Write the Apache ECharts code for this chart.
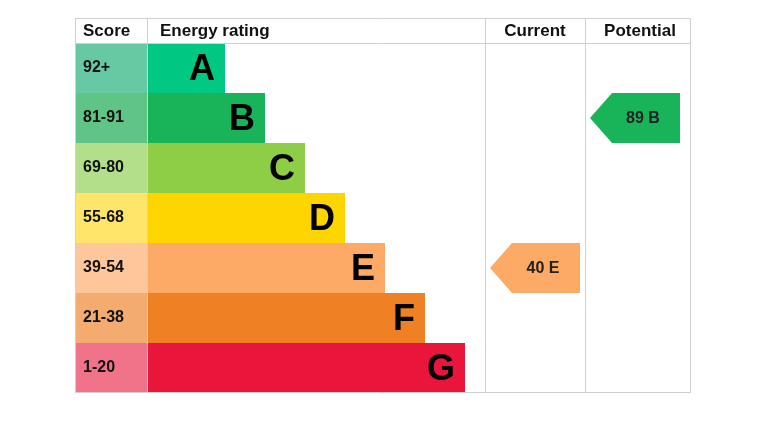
<!DOCTYPE html>
<html><head><meta charset="utf-8">
<script src="https://cdn.jsdelivr.net/npm/echarts@6/dist/echarts.min.js"></script>
<style>html,body{margin:0;padding:0;background:#fff}#c{width:757px;height:427px}</style>
</head><body><div id="c"></div>
<script>
const letters = ['A','B','C','D','E','F','G'];
const scoreRanges = ['92+','81-91','69-80','55-68','39-54','21-38','1-20'];
const barEnds = [150,190,230,270,310,350,390];
const barColors = ['#00c781','#19b459','#8dce46','#ffd500','#fcaa65','#ef8023','#e9153b'];
const scoreColors = ['#66c9a4','#5fc485','#b3de8a','#ffe56a','#fdc79b','#f4ab6f','#f0738a'];
const headers = ['Score','Energy rating','Current','Potential'];
const currentScore = 40, currentBand = 'E';
const potentialScore = 89, potentialBand = 'B';

const chart = echarts.init(document.getElementById('c'));
const font = 'Liberation Sans, Arial, sans-serif';
const rows = letters.map((l,i)=>[i,barEnds[i]]);
function rowTop(i){return 25+50*i;}

chart.setOption({
  animation:false,
  grid:{left:75,top:18,width:615,height:375},
  xAxis:{type:'value',min:0,max:615,show:false},
  yAxis:{type:'value',min:0,max:375,inverse:true,show:false},
  series:[
    {type:'custom',data:rows,renderItem:(p,api)=>{
      const i=api.value(0), end=api.value(1);
      const t=rowTop(i);
      const a=api.coord([0,t]), b=api.coord([72,t+50]), c=api.coord([end,t+50]);
      return {type:'group',children:[
        {type:'rect',shape:{x:a[0],y:a[1],width:b[0]-a[0],height:b[1]-a[1]},style:{fill:scoreColors[i]}},
        {type:'rect',shape:{x:b[0],y:a[1],width:c[0]-b[0],height:c[1]-a[1]},style:{fill:barColors[i]}},
        {type:'text',style:{x:a[0]+8,y:(a[1]+b[1])/2,text:scoreRanges[i],font:'bold 16px '+font,fill:'#111',verticalAlign:'middle'}},
        {type:'text',style:{x:c[0]-10,y:(a[1]+b[1])/2+2,text:letters[i],font:'bold 36px '+font,fill:'#000',align:'right',verticalAlign:'middle'}}
      ]};
    }},
    {type:'custom',data:[[415,505,letters.indexOf(currentBand),currentScore],[515,605,letters.indexOf(potentialBand),potentialScore]],
     renderItem:(p,api)=>{
      const x0=api.value(0),x1=api.value(1),i=api.value(2),s=api.value(3);
      const t=rowTop(i);
      const tip=api.coord([x0,t+25]), tl=api.coord([x0+22,t]), br=api.coord([x1,t+50]);
      const pts=[[tip[0],tip[1]],[tl[0],tl[1]],[br[0],tl[1]],[br[0],br[1]],[tl[0],br[1]]];
      const lab = s+' '+(p.dataIndex===0?currentBand:potentialBand);
      return {type:'group',children:[
        {type:'polygon',shape:{points:pts},style:{fill:barColors[i]}},
        {type:'text',style:{x:(tip[0]+br[0])/2+8,y:tip[1]+1,text:lab,font:'bold 16px '+font,fill:'#222',align:'center',verticalAlign:'middle'}}
      ]};
    }},
    {type:'custom',data:[[0]],renderItem:(p,api)=>{
      const ch=[];
      const L=api.coord([0,0]),R=api.coord([615,375]);
      const line=(x1,y1,x2,y2)=>ch.push({type:'line',shape:{x1,y1,x2,y2},style:{stroke:'#d0d0d0',lineWidth:1}});
      line(L[0],L[1]+0.5,R[0],L[1]+0.5);
      line(L[0],R[1]-0.5,R[0],R[1]-0.5);
      const h=api.coord([0,25]);
      line(L[0],h[1]+0.5,R[0],h[1]+0.5);
      [0,72,410,510,615].forEach(v=>{const x=api.coord([v,0])[0];line(x+0.5,L[1],x+0.5,R[1]);});
      const hx=[[8,'left'],[85,'left'],[460,'center'],[565,'center']];
      headers.forEach((t,k)=>{const x=api.coord([hx[k][0],0])[0];
        ch.push({type:'text',style:{x:x,y:(L[1]+h[1])/2+1,text:t,font:'bold 17px '+font,fill:'#111',align:hx[k][1],verticalAlign:'middle'}});});
      return {type:'group',children:ch};
    }}
  ]
});
</script></body></html>
